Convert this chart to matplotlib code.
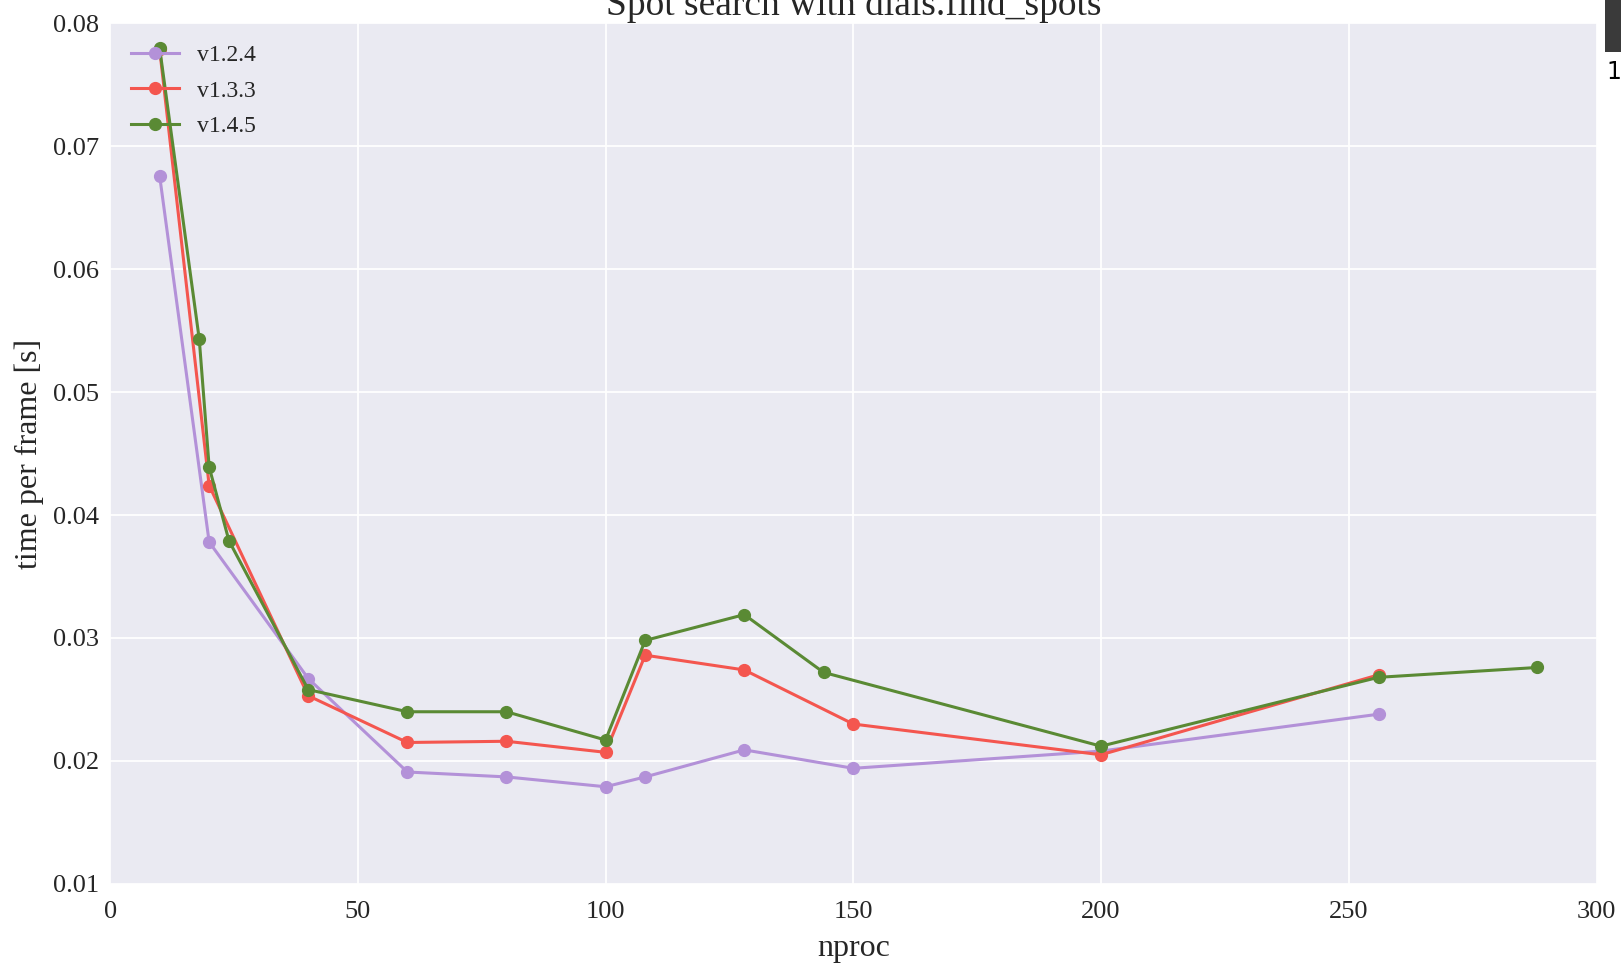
import matplotlib.pyplot as plt
from matplotlib.patches import Rectangle

# timing results per dials release
nproc_124 = [10, 20, 40, 60, 80, 100, 108, 128, 150, 200, 256]
time_124 = [0.0676, 0.0378, 0.0267, 0.0191, 0.0187, 0.0179, 0.0187, 0.0209, 0.0194, 0.0208, 0.0238]

nproc_133 = [10, 20, 40, 60, 80, 100, 108, 128, 150, 200, 256]
time_133 = [0.0779, 0.0424, 0.0253, 0.0215, 0.0216, 0.0207, 0.0286, 0.0274, 0.0230, 0.0205, 0.0270]

nproc_145 = [10, 18, 20, 24, 40, 60, 80, 100, 108, 128, 144, 200, 256, 288]
time_145 = [0.0780, 0.0543, 0.0439, 0.0379, 0.0258, 0.0240, 0.0240, 0.0217, 0.0298, 0.0319, 0.0272, 0.0212, 0.0268, 0.0276]

plt.rcParams['font.family'] = ['Liberation Serif', 'DejaVu Serif']

fig = plt.figure(figsize=(16.21, 9.66), dpi=100)
ax = fig.add_axes([0.0679, 0.085, 0.917, 0.891])
ax.set_facecolor('#EAEAF2')
for s in ax.spines.values():
    s.set_visible(False)
ax.grid(True, color='white', linewidth=1.3)
ax.set_axisbelow(True)

ax.plot(nproc_124, time_124, '-o', color='#B391D8', lw=2.2, ms=8.5, label='v1.2.4')
ax.plot(nproc_133, time_133, '-o', color='#F4564F', lw=2.2, ms=8.5, label='v1.3.3')
ax.plot(nproc_145, time_145, '-o', color='#5A8A34', lw=2.2, ms=8.5, label='v1.4.5')

ax.set_xlim(0, 300)
ax.set_ylim(0.01, 0.08)
ax.set_xticks(range(0, 301, 50))
ax.set_yticks([0.01, 0.02, 0.03, 0.04, 0.05, 0.06, 0.07, 0.08])
ax.tick_params(axis='x', pad=12)
ax.tick_params(axis='y', pad=8)
ax.tick_params(length=0, labelsize=19, colors='#262626')
ax.set_xlabel('nproc', fontsize=23, color='#262626', labelpad=8)
ax.set_ylabel('time per frame [s]', fontsize=23, color='#262626', labelpad=6)
ax.set_title('Spot search with dials.find_spots', fontsize=27, color='#262626', pad=4)

leg = ax.legend(loc='upper left', frameon=False, fontsize=17, handlelength=2.0,
                borderaxespad=0.5, labelspacing=0.6, handletextpad=0.8)
for t in leg.get_texts():
    t.set_color('#262626')

# dark strip at the top right corner
fig.patches.append(Rectangle((0.990, 0.946), 0.010, 0.054, transform=fig.transFigure,
                             facecolor='#3a3a3a', edgecolor='none'))
fig.text(0.991, 0.925, '1', fontsize=17, family='DejaVu Sans', ha='left', va='center')

fig.savefig('out.png', dpi=100)
